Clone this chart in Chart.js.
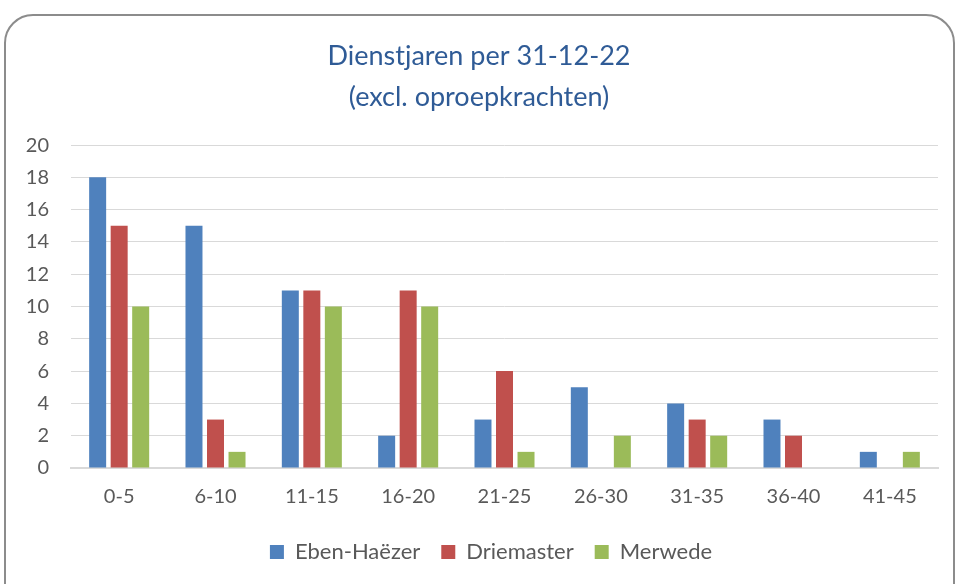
<!DOCTYPE html>
<html>
<head>
<meta charset="utf-8">
<script src="https://cdn.jsdelivr.net/npm/chart.js@4"></script>
<style>
  html, body { margin: 0; padding: 0; background: #fff; }
  #wrap { width: 957px; height: 584px; position: relative; }
</style>
</head>
<body>
<div id="wrap"><canvas id="grafiek"></canvas></div>
<script>
// data
const categorieen = ['0-5', '6-10', '11-15', '16-20', '21-25', '26-30', '31-35', '36-40', '41-45'];
const ebenHaezer = [18, 15, 11, 2, 3, 5, 4, 3, 1];
const driemaster = [15, 3, 11, 11, 6, 0, 3, 2, 0];
const merwede = [10, 1, 10, 10, 1, 2, 2, 0, 1];
const yTicks = [0, 2, 4, 6, 8, 10, 12, 14, 16, 18, 20];

const lettertype = 'Lato, "Open Sans", sans-serif';

// rand met afgeronde hoeken
const randPlugin = {
    id: 'rand',
    beforeDraw: function (chart) {
        const ctx = chart.ctx;
        ctx.save();
        ctx.fillStyle = '#ffffff';
        ctx.fillRect(0, 0, chart.width, chart.height);
        ctx.beginPath();
        ctx.roundRect(5, 15, 949, 620, 28);
        ctx.lineWidth = 2;
        ctx.strokeStyle = '#8c8c8c';
        ctx.stroke();
        ctx.restore();
    }
};

// legenda en titel iets naar rechts, zoals in het origineel
const schuifPlugin = {
    id: 'schuif',
    afterLayout: function (chart) {
        if (chart.legend) {
            chart.legend.left += 22;
            chart.legend.right += 22;
        }
        if (chart.titleBlock) {
            chart.titleBlock.left += 10;
            chart.titleBlock.right += 10;
        }
    }
};

new Chart(document.getElementById('grafiek'), {
    type: 'bar',
    data: {
        labels: categorieen,
        datasets: [
            { label: 'Eben-Haëzer', data: ebenHaezer, backgroundColor: '#4F81BD' },
            { label: 'Driemaster', data: driemaster, backgroundColor: '#C0504D' },
            { label: 'Merwede', data: merwede, backgroundColor: '#9BBB59' }
        ]
    },
    options: {
        responsive: true,
        maintainAspectRatio: false,
        animation: false,
        categoryPercentage: 0.67,
        barPercentage: 0.79,
        layout: { padding: { left: 0, right: 19, top: 0, bottom: 11 } },
        plugins: {
            tooltip: { enabled: false },
            title: {
                display: true,
                text: ['Dienstjaren per 31-12-22', '(excl. oproepkrachten)'],
                color: '#2F5B96',
                font: { family: lettertype, size: 27, weight: 'normal', lineHeight: 1.52 },
                padding: { top: 36, bottom: 27 }
            },
            legend: {
                position: 'bottom',
                labels: {
                    boxWidth: 14,
                    boxHeight: 14,
                    padding: 21,
                    color: '#595959',
                    font: { family: lettertype, size: 22 }
                }
            }
        },
        scales: {
            x: {
                grid: { display: false },
                border: { display: true, color: '#d9d9d9', width: 2 },
                ticks: { color: '#595959', padding: 9, font: { family: lettertype, size: 20 } },
                afterFit: function (scale) { scale.height = 52; }
            },
            y: {
                min: 0,
                max: 20,
                border: { display: false },
                grid: { color: '#d9d9d9', lineWidth: 1, drawTicks: false },
                afterBuildTicks: function (scale) {
                    scale.ticks = yTicks.map(v => ({ value: v }));
                },
                ticks: { color: '#595959', padding: 22, font: { family: lettertype, size: 20 } },
                afterFit: function (scale) { scale.width = 71; }
            }
        }
    },
    plugins: [randPlugin, schuifPlugin]
});
</script>
</body>
</html>
